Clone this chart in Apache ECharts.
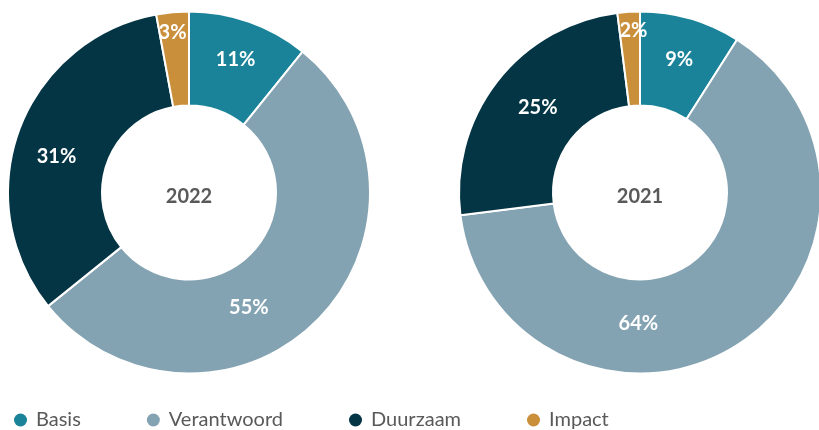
<!DOCTYPE html>
<html>
<head>
<meta charset="utf-8">
<script src="https://cdn.jsdelivr.net/npm/echarts@6/dist/echarts.min.js"></script>
<style>
  html, body { margin: 0; padding: 0; background: #fff; }
  #chart { width: 819px; height: 430px; }
</style>
</head>
<body>
<div id="chart"></div>
<script>
const categories = ["Basis", "Verantwoord", "Duurzaam", "Impact"];
const years = ["2022", "2021"];
// slice sizes, labels as printed on it
const values2022 = [10.8, 53.4, 32.9, 2.9];
const labels2022 = ["11%", "55%", "31%", "3%"];
const values2021 = [9, 64, 25, 2];
const labels2021 = ["9%", "64%", "25%", "2%"];

const colors = ["#1a8399", "#84a3b2", "#043545", "#c98f3b"];
const FONT = "Lato";

const donuts = [
  { year: years[0], values: values2022, labels: labels2022, center: [189, 192.5],
    nudge: [[1, -4], [-37, 18], [-4, 12], [-4, -24]] },
  { year: years[1], values: values2021, labels: labels2021, center: [640, 192.5],
    nudge: [[1, -1], [-75, 15], [6, -1], [2, -25]] },
];

function buildSeries(d) {
  return {
    name: d.year,
    type: "pie",
    center: d.center,
    radius: [87, 181],
    startAngle: 90,
    clockwise: true,
    avoidLabelOverlap: false,
    silent: true,
    itemStyle: { borderColor: "#fff", borderWidth: 2 },
    label: {
      show: true,
      position: "inside",
      rotate: 0,
      color: "#fff",
      fontFamily: FONT,
      fontWeight: "bold",
      fontSize: 20,
      formatter: (p) => d.labels[p.dataIndex],
    },
    labelLine: { show: false },
    emphasis: { disabled: true },
    data: categories.map((name, i) => ({
      name,
      value: d.values[i],
      itemStyle: { color: colors[i] },
      label: { offset: d.nudge[i] },
    })),
  };
}

const chart = echarts.init(document.getElementById("chart"));
chart.setOption({
  animation: false,
  color: colors,
  legend: {
    data: categories,
    top: 410,
    left: 14,
    padding: 0,
    icon: "circle",
    itemWidth: 13,
    itemHeight: 13,
    itemGap: 66,
    selectedMode: false,
    itemStyle: { borderWidth: 0 },
    textStyle: { fontFamily: FONT, fontSize: 20, color: "#595959", padding: [0, 0, 0, 4] },
  },
  graphic: donuts.map((d) => ({
    type: "text",
    x: d.center[0],
    y: d.center[1] + 4,
    style: {
      text: d.year,
      fill: "#595959",
      font: "bold 20px " + FONT,
      align: "center",
      verticalAlign: "middle",
    },
  })),
  series: donuts.map(buildSeries),
});
</script>
</body>
</html>
